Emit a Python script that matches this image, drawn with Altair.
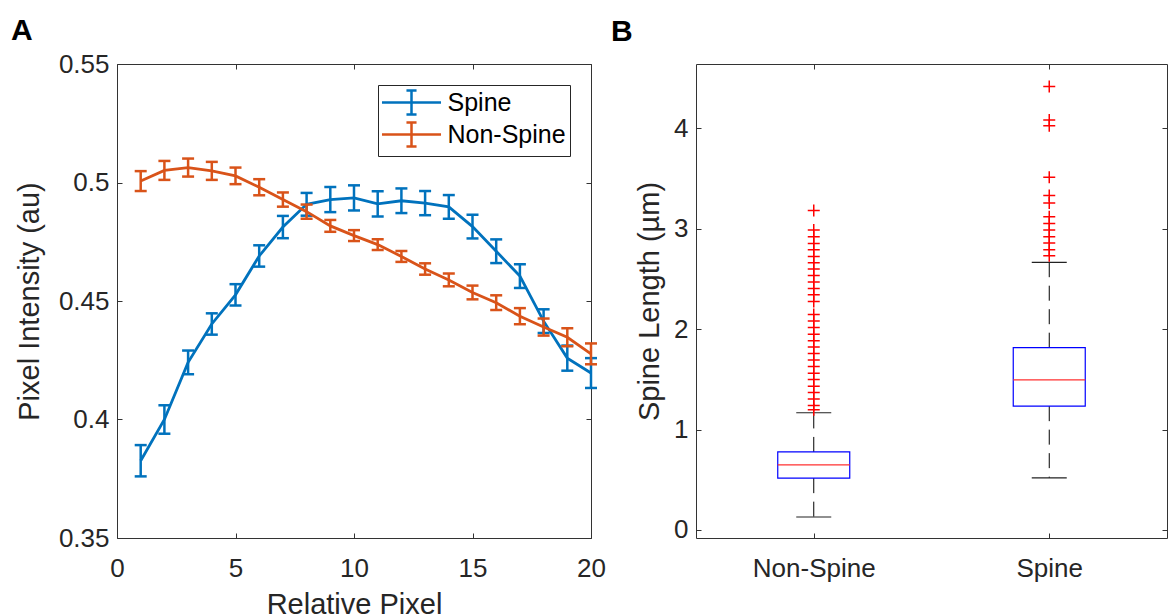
import altair as alt
import pandas as pd

# ---------------- Panel A data ----------------
pixel = list(range(1, 21))
spine_mean = [0.3826, 0.4000, 0.4241, 0.4403, 0.4526, 0.4690, 0.4812, 0.4908, 0.4928, 0.4935,
              0.4910, 0.4923, 0.4913, 0.4897, 0.4814, 0.4710, 0.4605, 0.4415, 0.4259, 0.4196]
spine_err = [0.0066, 0.0060, 0.0050, 0.0045, 0.0045, 0.0045, 0.0047, 0.0048, 0.0053, 0.0053,
             0.0053, 0.0052, 0.0051, 0.0050, 0.0050, 0.0050, 0.0050, 0.0050, 0.0053, 0.0063]
nonspine_mean = [0.5006, 0.5051, 0.5063, 0.5049, 0.5028, 0.4980, 0.4928, 0.4877, 0.4817, 0.4776,
                 0.4738, 0.4688, 0.4635, 0.4589, 0.4536, 0.4493, 0.4436, 0.4390, 0.4347, 0.4277]
nonspine_err = [0.0042, 0.0040, 0.0038, 0.0038, 0.0035, 0.0034, 0.0030, 0.0030, 0.0025, 0.0023,
                0.0023, 0.0023, 0.0024, 0.0027, 0.0029, 0.0031, 0.0034, 0.0036, 0.0038, 0.0044]
series_names = ["Spine", "Non-Spine"]
series_colors = ["#0072BD", "#D95319"]
x_ticks = [0, 5, 10, 15, 20]
y_ticks = [0.35, 0.40, 0.45, 0.50, 0.55]

# ---------------- Panel B data ----------------
groups = ["Non-Spine", "Spine"]
q1 = [0.516, 1.233]
median = [0.648, 1.494]
q3 = [0.777, 1.815]
whisker_low = [0.129, 0.519]
whisker_high = [1.167, 2.665]
nonspine_outliers = [1.196, 1.240, 1.303, 1.369, 1.432, 1.498, 1.560, 1.627, 1.693, 1.756,
                     1.822, 1.885, 1.950, 2.017, 2.080, 2.146, 2.275, 2.341, 2.404, 2.470,
                     2.533, 2.599, 2.661, 2.724, 2.790, 2.853, 2.920, 2.986, 3.180]
spine_outliers = [2.731, 2.790, 2.857, 2.920, 2.986, 3.052, 3.118, 3.257, 3.330, 3.512,
                  4.024, 4.083, 4.415]
b_ticks = [0, 1, 2, 3, 4]

FONT = "Liberation Sans"
TXT = "#262626"
AX = "#333333"

# ---------------- build tables ----------------
rows = []
for name, means, errs in [("Spine", spine_mean, spine_err), ("Non-Spine", nonspine_mean, nonspine_err)]:
    for p, m, e in zip(pixel, means, errs):
        rows.append({"series": name, "pixel": p, "mean": m, "lo": m - e, "hi": m + e})
dfA = pd.DataFrame(rows)

dfB = pd.DataFrame({"group": groups, "q1": q1, "median": median, "q3": q3,
                    "wlo": whisker_low, "whi": whisker_high})
dfO = pd.DataFrame({"group": ["Non-Spine"] * len(nonspine_outliers) + ["Spine"] * len(spine_outliers),
                    "value": nonspine_outliers + spine_outliers})

LEG_PATH = "M-2.46,0H2.46M0,-1V1M-0.42,-1H0.42M-0.42,1H0.42"
PLUS = "M-1,0H1M0,-1V1"

color = alt.Color(
    "series:N",
    scale=alt.Scale(domain=series_names, range=series_colors),
    legend=alt.Legend(
        title=None, orient="none", legendX=261, legendY=21,
        symbolType=LEG_PATH, symbolSize=576, symbolStrokeWidth=2.5,
        symbolOffset=16, labelOffset=22.5, labelFontSize=25, labelFont=FONT,
        labelColor="black", padding=4, rowPadding=-3,
        strokeColor="#262626", fillColor="white",
    ),
)

xA = alt.X("pixel:Q", scale=alt.Scale(domain=[0, 20], nice=False),
           axis=alt.Axis(values=x_ticks, format="~g", title="Relative Pixel", labelFlush=False))
yA_scale = alt.Scale(domain=[0.35, 0.55], nice=False, zero=False)

layersA = []
for name in series_names:
    base = alt.Chart(dfA).transform_filter(alt.datum.series == name)
    line = base.mark_line(strokeWidth=2.8).encode(
        x=xA,
        y=alt.Y("mean:Q", scale=yA_scale,
                axis=alt.Axis(values=y_ticks, format="~g", title="Pixel Intensity (au)",
                              titlePadding=13.5)),
        color=color,
    )
    bar = base.mark_rule(strokeWidth=2.5).encode(
        x=xA, y=alt.Y("lo:Q", scale=yA_scale), y2="hi:Q", color=color)
    cap_lo = base.mark_tick(orient="horizontal", size=12, thickness=2.5, opacity=1).encode(
        x=xA, y=alt.Y("lo:Q", scale=yA_scale), color=color)
    cap_hi = base.mark_tick(orient="horizontal", size=12, thickness=2.5, opacity=1).encode(
        x=xA, y=alt.Y("hi:Q", scale=yA_scale), color=color)
    layersA += [line, bar, cap_lo, cap_hi]

mainA = alt.layer(*layersA)
dummyA = alt.Chart(dfA).mark_point(opacity=0).encode(
    x=alt.X("pixel:Q", scale=alt.Scale(domain=[0, 20], nice=False),
            axis=alt.Axis(orient="top", values=x_ticks, labels=False, title=None)),
    y=alt.Y("mean:Q", scale=yA_scale,
            axis=alt.Axis(orient="right", values=y_ticks, labels=False, title=None,
                          minExtent=0, maxExtent=0)),
)
chartA = alt.layer(mainA, dummyA).resolve_scale(x="independent", y="independent").properties(
    width=474, height=474,
    title=alt.TitleParams("A", anchor="start", frame="group", dx=-106, fontSize=30,
                          fontWeight="bold", font=FONT, color="black",
                          baseline="alphabetic", offset=-19),
)

# ---------------- Panel B ----------------
xB_scale = alt.Scale(type="point", padding=0.5, domain=groups)
yB_scale = alt.Scale(domain=[-0.08, 4.64], nice=False, zero=False)
xB = alt.X("group:N", scale=xB_scale, sort=groups,
           axis=alt.Axis(title=None, labelAngle=0))
yB_axis = alt.Axis(values=b_ticks, format="d", title="Spine Length (µm)", titlePadding=9.5)

box = alt.Chart(dfB).mark_bar(size=72, fillOpacity=0, stroke="#0000FF", strokeWidth=1.2).encode(
    x=xB, y=alt.Y("q1:Q", scale=yB_scale, axis=yB_axis), y2="q3:Q")
med = alt.Chart(dfB).mark_tick(orient="horizontal", size=72, thickness=1.2, color="#FF3030",
                               opacity=1).encode(
    x=xB, y=alt.Y("median:Q", scale=yB_scale))
wup = alt.Chart(dfB).mark_rule(color="black", strokeWidth=1, strokeDash=[15, 8.5]).encode(
    x=xB, y=alt.Y("q3:Q", scale=yB_scale), y2="whi:Q")
wdn = alt.Chart(dfB).mark_rule(color="black", strokeWidth=1, strokeDash=[15, 8.5]).encode(
    x=xB, y=alt.Y("q1:Q", scale=yB_scale), y2="wlo:Q")
cap_up = alt.Chart(dfB).mark_tick(orient="horizontal", size=35, thickness=1.2, color="#222222",
                                  opacity=1).encode(
    x=xB, y=alt.Y("whi:Q", scale=yB_scale))
cap_dn = alt.Chart(dfB).mark_tick(orient="horizontal", size=35, thickness=1.2, color="#222222",
                                  opacity=1).encode(
    x=xB, y=alt.Y("wlo:Q", scale=yB_scale))
outl = alt.Chart(dfO).mark_point(shape=PLUS, size=144, filled=False, color="#FF0000",
                                 strokeWidth=1.5, opacity=1).encode(
    x=xB, y=alt.Y("value:Q", scale=yB_scale))

mainB = alt.layer(wup, wdn, cap_up, cap_dn, box, med, outl)
dummyB = alt.Chart(dfB).mark_point(opacity=0).encode(
    x=alt.X("group:N", scale=xB_scale, sort=groups,
            axis=alt.Axis(orient="top", labels=False, title=None)),
    y=alt.Y("median:Q", scale=yB_scale,
            axis=alt.Axis(orient="right", values=b_ticks, labels=False, title=None,
                          minExtent=0, maxExtent=0)),
)
chartB = alt.layer(mainB, dummyB).resolve_scale(x="independent", y="independent").properties(
    width=471, height=474,
    title=alt.TitleParams("B", anchor="start", frame="group", dx=-85, fontSize=30,
                          fontWeight="bold", font=FONT, color="black",
                          baseline="alphabetic", offset=-7),
)

chart = alt.hconcat(chartA, chartB, spacing=4).properties(
    padding={"left": 2, "top": 7, "right": 0, "bottom": 0}
).configure_view(
    stroke=AX, strokeWidth=1
).configure_axis(
    domain=False, grid=False, tickColor=AX, tickSize=5, tickWidth=1, offset=-5,
    labelFont=FONT, labelFontSize=26, labelColor=TXT,
    titleFont=FONT, titleFontSize=29, titleColor=TXT, titleFontWeight="normal",
).configure_axisBottom(
    labelPadding=17, titlePadding=9
).configure_axisLeft(
    labelPadding=8
)

chart.save("out.html", embed_options={"renderer": "svg", "actions": False})
